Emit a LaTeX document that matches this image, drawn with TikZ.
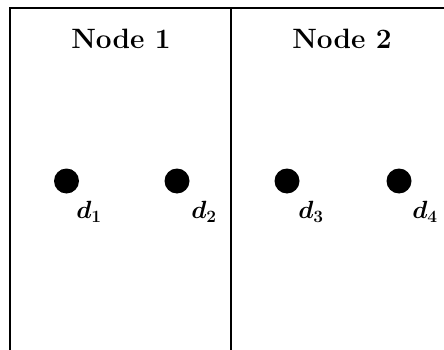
\documentclass[tikz,border=0pt]{standalone}
\begin{document}
\begin{tikzpicture}[x=1pt,y=-1pt,
  frame/.style={line width=1.8pt,black},
  dot/.style={circle,fill=black,inner sep=0pt,minimum size=25pt},
  title/.style={font=\fontsize{28}{32}\selectfont\bfseries,inner sep=0pt},
  lab/.style={font=\fontsize{24}{28}\selectfont\boldmath,inner sep=0pt}]
\useasboundingbox (0,0) rectangle (444,350);
\draw[frame] (10,350) -- (10,8) -- (444,8);
\draw[frame] (231,8) -- (231,350);
\node[title] (n1) at (121,39) {Node 1};
\node[title] (n2) at (342,39) {Node 2};
\node[dot] (p1) at (66.5,181) {};
\node[dot] (p2) at (177,181) {};
\node[dot] (p3) at (287,181) {};
\node[dot] (p4) at (399,181) {};
\node[lab] (l1) at (89,212) {$d_1$};
\node[lab] (l2) at (204,212) {$d_2$};
\node[lab] (l3) at (311,212) {$d_3$};
\node[lab] (l4) at (425,212) {$d_4$};
\end{tikzpicture}
\end{document}
